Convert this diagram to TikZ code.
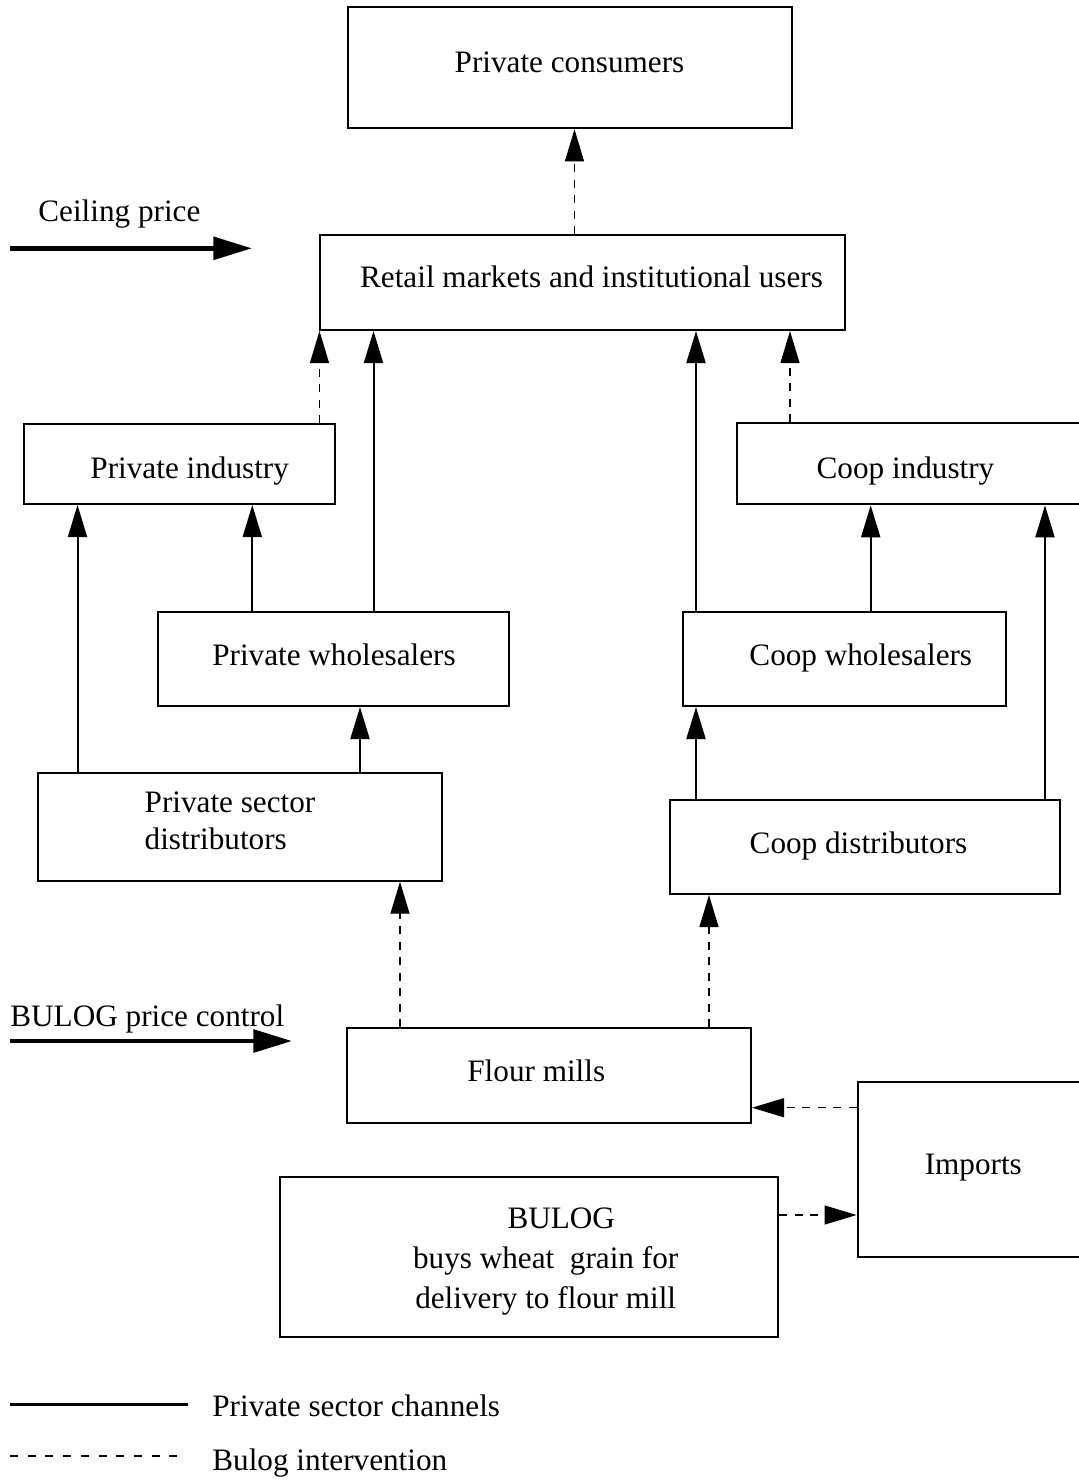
\documentclass[tikz,border=0pt]{standalone}
\usepackage{fontspec}
\setmainfont{Liberation Serif}
\usetikzlibrary{arrows.meta}
\newcommand\offs[3]{\raisebox{#2}[\height][\depth]{\hspace*{#1}#3\hspace*{-#1}}}
\begin{document}
\begin{tikzpicture}[x=0.5pt,y=-0.5pt,
  txt/.style={font=\fontsize{15.6pt}{18.5pt}\selectfont},
  box/.style={draw, line width=1pt, inner sep=0pt, txt},
  one/.style={text height=10.75pt, text depth=3.4pt},
  lbl/.style={inner sep=0pt, txt},
  solidarr/.style={line width=1pt, -{Triangle[length=16pt,width=9.5pt]}},
  dasharr/.style={line width=0.55pt, draw=black, dash pattern=on 4pt off 3.75pt, -{Triangle[length=16pt,width=9.5pt]}},
  bigarr/.style={line width=2.3pt, -{Triangle[length=19.3pt,width=11.2pt]}},
  legsolid/.style={line width=1.5pt},
  legdash/.style={line width=0.6pt, dash pattern=on 4pt off 4.85pt},
]
\clip (0,0) rectangle (1079,1480);
\fill[white] (0,0) rectangle (1079,1480);

% boxes
\node[box, one, minimum width=222pt, minimum height=60.5pt] (cons) at (569.5,67.8)
  {\offs{0pt}{1.2pt}{Private consumers}};
\node[box, one, minimum width=262.5pt, minimum height=47.5pt] (retail) at (582.5,282.5)
  {\offs{4.5pt}{1.3pt}{Retail markets and institutional users}};
\node[box, one, minimum width=155.5pt, minimum height=40pt] (pind) at (179.5,464)
  {\offs{5.1pt}{-3.4pt}{Private industry}};
\node[box, one, minimum width=176pt, minimum height=40.5pt] (cind) at (913,463.8)
  {\offs{-3.75pt}{-3.6pt}{Coop industry}};
\node[box, one, minimum width=175.5pt, minimum height=47pt] (pwh) at (333.5,659)
  {\offs{0.25pt}{0.5pt}{Private wholesalers}};
\node[box, one, minimum width=161.5pt, minimum height=47pt] (cwh) at (844.5,659)
  {\offs{8.15pt}{0.5pt}{Coop wholesalers}};
\node[box, minimum width=202pt, minimum height=53.7pt] (psd) at (240,827)
  {\offs{-5pt}{1.8pt}{\begin{tabular}{@{}l@{}}Private sector\\distributors\end{tabular}}};
\node[box, one, minimum width=195pt, minimum height=47pt] (cdist) at (865,847)
  {\offs{-3.25pt}{0.6pt}{Coop distributors}};
\node[box, one, minimum width=202pt, minimum height=47.2pt] (flour) at (549,1075.5)
  {\offs{-6.35pt}{0.9pt}{Flour mills}};
\node[box, one, minimum width=115.75pt, minimum height=87.5pt] (imp) at (973.3,1169.8)
  {\offs{0pt}{1.1pt}{Imports}};
\node[box, minimum width=249pt, minimum height=80.3pt] (bulog) at (529,1257)
  {\fontsize{15.6pt}{20pt}\selectfont\offs{8.35pt}{-1.85pt}{\begin{tabular}{@{}c@{}}\hspace*{15.6pt}BULOG\\buys wheat\ \ grain for\\delivery to flour mill\end{tabular}}};

% free labels
\node[lbl, anchor=base west] (ceil) at (38,221.7) {Ceiling price};
\node[lbl, anchor=base west] (bpc) at (10,1026.7) {BULOG price control};
\node[lbl, anchor=base west] (leg1) at (212,1416) {Private sector channels};
\node[lbl, anchor=base west] (leg2) at (212,1470.7) {Bulog intervention};

% guide coordinates
\coordinate (vA) at (574.5,0);
\coordinate (vB) at (319.5,0);
\coordinate (vC) at (373.5,0);
\coordinate (vD) at (696,0);
\coordinate (vE) at (790,0);
\coordinate (vF) at (77.5,0);
\coordinate (vG) at (252.3,0);
\coordinate (vH) at (360,0);
\coordinate (vI) at (870.7,0);
\coordinate (vJ) at (1045,0);
\coordinate (vK) at (400,0);
\coordinate (vL) at (709,0);
\coordinate (hA) at (0,1107.7);
\coordinate (hB) at (0,1215);

% connectors
\draw[dasharr] (retail.north -| vA) -- (cons.south -| vA);
\draw[dasharr] (pind.north -| vB) -- (retail.south -| vB);
\draw[solidarr] (pwh.north -| vC) -- (retail.south -| vC);
\draw[solidarr] (cwh.north -| vD) -- (retail.south -| vD);
\draw[dasharr] (cind.north -| vE) -- (retail.south -| vE);
\draw[solidarr] (psd.north -| vF) -- (pind.south -| vF);
\draw[solidarr] (pwh.north -| vG) -- (pind.south -| vG);
\draw[solidarr] (psd.north -| vH) -- (pwh.south -| vH);
\draw[solidarr] (cwh.north -| vI) -- (cind.south -| vI);
\draw[solidarr] (cdist.north -| vJ) -- (cind.south -| vJ);
\draw[solidarr] (cdist.north -| vD) -- (cwh.south -| vD);
\draw[dasharr] (flour.north -| vK) -- (psd.south -| vK);
\draw[dasharr] (flour.north -| vL) -- (cdist.south -| vL);
\draw[dasharr] (imp.west |- hA) -- (flour.east |- hA);
\draw[dasharr] (bulog.east |- hB) -- (imp.west |- hB);

% price arrows
\coordinate (ca) at (10,248.3);
\coordinate (cb) at (252,248.3);
\draw[bigarr] (ca) -- (cb);
\coordinate (ba) at (10,1041);
\coordinate (bb) at (292,1041);
\draw[bigarr] (ba) -- (bb);

% legend
\coordinate (la) at (10,1404);
\coordinate (lb) at (188,1404);
\draw[legsolid] (la) -- (lb);
\coordinate (lc) at (10,1456);
\coordinate (ld) at (184,1456);
\draw[legdash] (lc) -- (ld);
\end{tikzpicture}
\end{document}
